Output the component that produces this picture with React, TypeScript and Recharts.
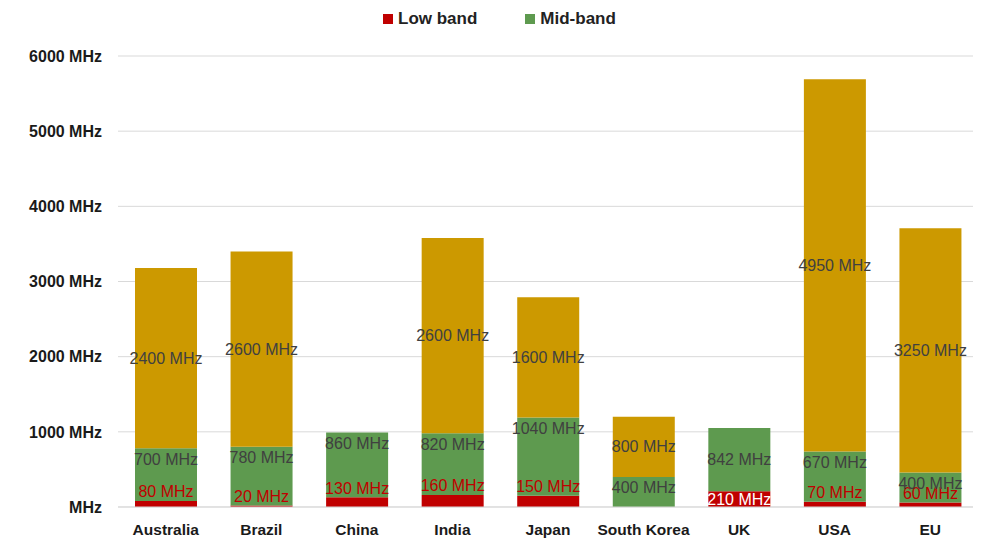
import React from 'react';
import { BarChart, Bar, XAxis, YAxis, CartesianGrid, Legend, LabelList } from 'recharts';

// Spectrum assigned per market, MHz
const countries = ['Australia', 'Brazil', 'China', 'India', 'Japan', 'South Korea', 'UK', 'USA', 'EU'];
const lowBand = [80, 20, 130, 160, 150, 0, 210, 70, 60];
const midBand = [700, 780, 860, 820, 1040, 400, 842, 670, 400];
const mmWave = [2400, 2600, 0, 2600, 1600, 800, 0, 4950, 3250];
const yTicks = [0, 1000, 2000, 3000, 4000, 5000, 6000];

const data = countries.map((name, i) => ({
  name,
  low: lowBand[i],
  mid: midBand[i],
  high: mmWave[i],
}));

const FONT = '"Liberation Sans", Arial, sans-serif';
const RED = '#C00000';
const GREEN = '#5E9A4F';
const GOLD = '#CC9900';
const LABEL_GREY = '#404040';

// a low-band label only sits inside its bar when the segment is tall enough
const LABEL_ROOM = 14;

const fmt = (v: number) => (v === 0 ? 'MHz' : `${v} MHz`);

function LowLabel(props: any) {
  const { x, y, width, height, value } = props;
  if (!value) return null;
  const inside = height >= LABEL_ROOM;
  return (
    <text
      x={x + width / 2}
      y={inside ? y + height / 2 : y - 9}
      textAnchor="middle"
      dominantBaseline="central"
      fontFamily={FONT}
      fontSize={16}
      fill={inside ? '#FFFFFF' : RED}
    >
      {value} MHz
    </text>
  );
}

function makeMidLabel(lowHeights: number[]) {
  return function MidLabel(props: any) {
    const { x, y, width, height, value, index } = props;
    if (!value) return null;
    const centred = lowHeights[index] >= LABEL_ROOM;
    return (
      <text
        x={x + width / 2}
        y={centred ? y + height / 2 : y + 11}
        textAnchor="middle"
        dominantBaseline="central"
        fontFamily={FONT}
        fontSize={16}
        fill={LABEL_GREY}
      >
        {value} MHz
      </text>
    );
  };
}

function HighLabel(props: any) {
  const { x, y, width, height, value } = props;
  if (!value) return null;
  return (
    <text
      x={x + width / 2}
      y={y + height / 2}
      textAnchor="middle"
      dominantBaseline="central"
      fontFamily={FONT}
      fontSize={16}
      fill={LABEL_GREY}
    >
      {value} MHz
    </text>
  );
}

function LegendContent(props: any) {
  // only the low and mid bands get a legend entry
  const items = (props.payload || []).filter((it: any) => it.dataKey !== 'high' && it.type !== 'none');
  return (
    <div style={{ height: 22, display: 'flex', alignItems: 'center', paddingLeft: 375 }}>
      {items.map((it: any, i: number) => (
        <div key={i} style={{ display: 'flex', alignItems: 'center', marginRight: 48 }}>
          <span style={{ width: 10, height: 10, background: it.color, marginRight: 5, display: 'inline-block' }} />
          <span style={{ fontFamily: FONT, fontWeight: 'bold', fontSize: 17, color: '#222' }}>{it.value}</span>
        </div>
      ))}
    </div>
  );
}

export default function App() {
  const W = 973;
  const H = 531;
  const plotH = 452;
  // pixel height of each low-band segment, used to decide label placement
  const lowHeights = lowBand.map((v) => (v / 6000) * plotH);
  const MidLabel = makeMidLabel(lowHeights);

  return (
    <div style={{ width: W, height: H, background: '#fff' }}>
      <BarChart width={W} height={H} data={data} margin={{ top: 26, right: 3, bottom: 0, left: 0 }}>
        <CartesianGrid vertical={false} stroke="#D9D9D9" />
        <Legend
          verticalAlign="top"
          align="left"
          content={<LegendContent />}
          wrapperStyle={{ top: 0, left: 0, width: W }}
        />
        <XAxis
          dataKey="name"
          height={32}
          tickLine={false}
          axisLine={{ stroke: '#D9D9D9' }}
          tickMargin={11}
          interval={0}
          tick={{ fontFamily: FONT, fontSize: 15.5, fontWeight: 'bold', fill: '#1a1a1a' }}
        />
        <YAxis
          width={110}
          domain={[0, 6000]}
          ticks={yTicks}
          axisLine={false}
          tickLine={false}
          tickMargin={10}
          tickFormatter={fmt}
          tick={{ fontFamily: FONT, fontSize: 16, fontWeight: 'bold', fill: '#1a1a1a' }}
        />
        <Bar dataKey="low" name="Low band" stackId="a" fill={RED} barSize={62} isAnimationActive={false}>
          <LabelList dataKey="low" content={LowLabel} />
        </Bar>
        <Bar dataKey="mid" name="Mid-band" stackId="a" fill={GREEN} barSize={62} isAnimationActive={false}>
          <LabelList dataKey="mid" content={MidLabel} />
        </Bar>
        <Bar dataKey="high" name="mmWave" stackId="a" fill={GOLD} barSize={62} legendType="none" isAnimationActive={false}>
          <LabelList dataKey="high" content={HighLabel} />
        </Bar>
      </BarChart>
    </div>
  );
}
